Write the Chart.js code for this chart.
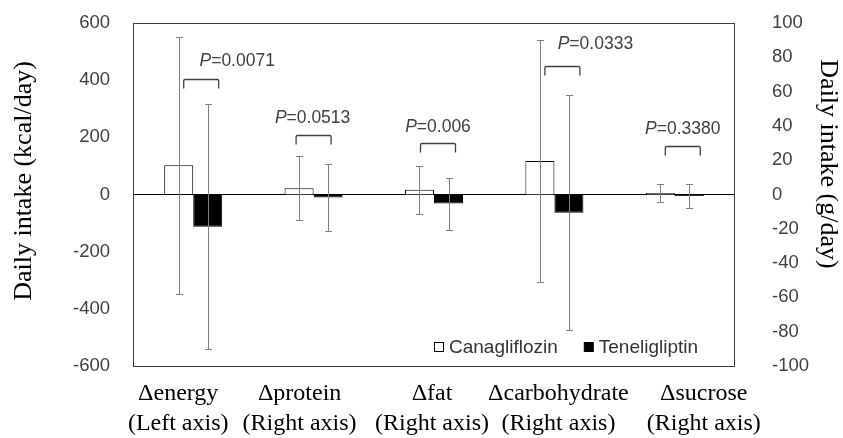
<!DOCTYPE html>
<html><head><meta charset="utf-8">
<script src="https://cdn.jsdelivr.net/npm/chart.js@4.4.0/dist/chart.umd.min.js"></script>
<style>html,body{margin:0;padding:0;background:#fff;} canvas{display:block;}</style>
</head><body>
<canvas id="c" width="843" height="438"></canvas>
<script>
// ---- data ----
const categories = ['Δenergy', 'Δprotein', 'Δfat', 'Δcarbohydrate', 'Δsucrose'];
const axisNotes = ['(Left axis)', '(Right axis)', '(Right axis)', '(Right axis)', '(Right axis)'];
const categoryAxis = ['y', 'y2', 'y2', 'y2', 'y2'];
const seriesNames = ['Canagliflozin', 'Teneligliptin'];
const canaMean = [102, 3.6, 2.7, 19.6, 0.9];
const canaSD = [450, 18.7, 14.2, 70.5, 5.5];
const teneMean = [-113, -1.8, -5.3, -10.6, -0.9];
const teneSD = [428, 19.6, 15.2, 68.5, 7.1];
const pValues = ['0.0071', '0.0513', '0.006', '0.0333', '0.3380'];
const leftTicks = [-600, -400, -200, 0, 200, 400, 600];
const rightTicks = [-100, -80, -60, -40, -20, 0, 20, 40, 60, 80, 100];
const axisTitles = ['Daily intake (kcal/day)', 'Daily intake (g/day)'];

// ---- layout / styling (annotation placement) ----
const bracketStyle = [ // y in right-axis units, offsets in px
  {dx: 8, y: 67.2, tdx: 36, ty: -18.5},
  {dx: 0, y: 34.8, tdx: -1, ty: -17.5},
  {dx: 4, y: 30.1, tdx: 0, ty: -16.5},
  {dx: 8, y: 75.0, tdx: 33, ty: -22},
  {dx: 8, y: 28.4, tdx: 0, ty: -17}
];
const labelShift = [-15, -14, -2, 4, 29];

const SANS = "'Liberation Sans', Arial, sans-serif";
const SERIF = "'Liberation Serif', 'Times New Roman', serif";

function only(arr, axis) { return arr.map((v, i) => categoryAxis[i] === axis ? v : null); }

const datasets = [
  {label: seriesNames[0], data: only(canaMean, 'y'), sd: canaSD, yAxisID: 'y', backgroundColor: '#ffffff', borderColor: '#000000'},
  {label: seriesNames[1], data: only(teneMean, 'y'), sd: teneSD, yAxisID: 'y', backgroundColor: '#000000', borderColor: '#000000'},
  {label: seriesNames[0], data: only(canaMean, 'y2'), sd: canaSD, yAxisID: 'y2', backgroundColor: '#ffffff', borderColor: '#000000'},
  {label: seriesNames[1], data: only(teneMean, 'y2'), sd: teneSD, yAxisID: 'y2', backgroundColor: '#000000', borderColor: '#000000'}
];
datasets.forEach(d => { d.borderWidth = 1; d.skipNull = true; d.categoryPercentage = 0.482; d.barPercentage = 1.0; });

const bgPlugin = {
  id: 'bg',
  beforeDraw(chart) {
    const c = chart.ctx; c.save(); c.fillStyle = '#fff'; c.fillRect(0, 0, chart.width, chart.height); c.restore();
  }
};

const annotPlugin = {
  id: 'annot',
  afterDatasetsDraw(chart) {
    const c = chart.ctx;
    const ca = chart.chartArea;
    const xs = chart.scales.x;
    const y2 = chart.scales.y2;
    c.save();
    // error bars
    c.strokeStyle = '#7f7f7f'; c.lineWidth = 1;
    chart.data.datasets.forEach((ds, di) => {
      const meta = chart.getDatasetMeta(di);
      const sc = chart.scales[ds.yAxisID];
      ds.data.forEach((v, i) => {
        if (v === null) return;
        const x = Math.round(meta.data[i].x) + 0.5;
        const yt = Math.round(sc.getPixelForValue(v + ds.sd[i])) + 0.5;
        const yb = Math.round(sc.getPixelForValue(v - ds.sd[i])) + 0.5;
        c.beginPath();
        c.moveTo(x, yt); c.lineTo(x, yb);
        c.moveTo(x - 3.5, yt); c.lineTo(x + 3.5, yt);
        c.moveTo(x - 3.5, yb); c.lineTo(x + 3.5, yb);
        c.stroke();
      });
    });
    // plot box
    c.strokeStyle = '#404040'; c.lineWidth = 1;
    c.strokeRect(Math.round(ca.left) + 0.5, Math.round(ca.top) + 0.5, Math.round(ca.right - ca.left) - 1, Math.round(ca.bottom - ca.top));
    // brackets & p values
    pValues.forEach((p, i) => {
      const b = bracketStyle[i];
      const cx = xs.getPixelForValue(i) + b.dx;
      const yTop = Math.round(y2.getPixelForValue(b.y)) + 0.5;
      const hw = 17.5, drop = 9;
      c.strokeStyle = '#404040'; c.lineWidth = 1.3;
      c.beginPath();
      c.moveTo(cx - hw, yTop + drop);
      c.lineTo(cx - hw, yTop + 1.5);
      c.quadraticCurveTo(cx - hw, yTop, cx - hw + 1.5, yTop);
      c.lineTo(cx + hw - 1.5, yTop);
      c.quadraticCurveTo(cx + hw, yTop, cx + hw, yTop + 1.5);
      c.lineTo(cx + hw, yTop + drop);
      c.stroke();
      const fs = 17.5;
      c.fillStyle = '#404040'; c.textBaseline = 'middle'; c.textAlign = 'left';
      c.font = 'italic ' + fs + 'px ' + SANS;
      const wP = c.measureText('P').width;
      c.font = fs + 'px ' + SANS;
      const wR = c.measureText('=' + p).width;
      const tx = cx + b.tdx - (wP + wR) / 2;
      const ty = yTop + b.ty;
      c.font = 'italic ' + fs + 'px ' + SANS;
      c.fillText('P', tx, ty);
      c.font = fs + 'px ' + SANS;
      c.fillText('=' + p, tx + wP, ty);
    });
    // legend (inside plot, bottom right)
    c.font = '19px ' + SANS; c.textBaseline = 'middle'; c.textAlign = 'left';
    const ly = ca.bottom - 19;
    let lx = ca.left + 301;
    const fills = ['#ffffff', '#000000'];
    seriesNames.forEach((n, k) => {
      c.fillStyle = fills[k]; c.fillRect(lx + 0.5, ly - 4.5, 9, 9);
      c.strokeStyle = '#000'; c.lineWidth = 1; c.strokeRect(lx + 0.5, ly - 4.5, 9, 9);
      c.fillStyle = '#333';
      c.fillText(n, lx + 15, ly + 0.5);
      lx += 15 + c.measureText(n).width + 26;
    });
    c.restore();
  },
  afterDraw(chart) {
    const c = chart.ctx;
    const ca = chart.chartArea;
    const xs = chart.scales.x;
    c.save();
    c.fillStyle = '#000'; c.textAlign = 'center'; c.textBaseline = 'alphabetic';
    c.font = '24px ' + SERIF;
    categories.forEach((cat, i) => {
      const x = xs.getPixelForValue(i) + labelShift[i];
      c.fillText(cat, x, ca.bottom + 34);
      c.fillText(axisNotes[i], x, ca.bottom + 64);
    });
    // axis titles
    c.font = '26px ' + SERIF; c.textBaseline = 'middle';
    c.save(); c.translate(24, 181); c.rotate(-Math.PI / 2); c.fillText(axisTitles[0], 0, 0); c.restore();
    c.save(); c.translate(828, 164); c.rotate(Math.PI / 2); c.fillText(axisTitles[1], 0, 0); c.restore();
    c.restore();
  }
};

new Chart(document.getElementById('c'), {
  type: 'bar',
  data: {labels: categories, datasets: datasets},
  options: {
    responsive: false,
    animation: false,
    devicePixelRatio: 1,
    layout: {padding: {top: 23, left: 0, right: 0, bottom: 0}},
    plugins: {legend: {display: false}, tooltip: {enabled: false}, title: {display: false}},
    scales: {
      x: {
        offset: true,
        grid: {display: false, drawTicks: false},
        border: {display: false},
        ticks: {display: false},
        afterFit(s) { s.height = 72; s.paddingLeft = 0; s.paddingRight = 0; }
      },
      y: {
        position: 'left',
        min: leftTicks[0], max: leftTicks[leftTicks.length - 1],
        ticks: {stepSize: leftTicks[1] - leftTicks[0], padding: 23, color: '#404040', font: {family: SANS, size: 18.5}},
        grid: {drawTicks: false, color: (ctx) => ctx.tick && ctx.tick.value === 0 ? '#000000' : 'rgba(0,0,0,0)', lineWidth: 1},
        border: {display: false},
        afterFit(s) { s.width = 133; s.paddingTop = 0; s.paddingBottom = 0; }
      },
      y2: {
        position: 'right',
        min: rightTicks[0], max: rightTicks[rightTicks.length - 1],
        ticks: {stepSize: rightTicks[1] - rightTicks[0], padding: 37, color: '#404040', font: {family: SANS, size: 18.5}},
        grid: {display: false, drawTicks: false},
        border: {display: false},
        afterFit(s) { s.width = 108; s.paddingTop = 0; s.paddingBottom = 0; }
      }
    }
  },
  plugins: [bgPlugin, annotPlugin]
});
</script>
</body></html>
